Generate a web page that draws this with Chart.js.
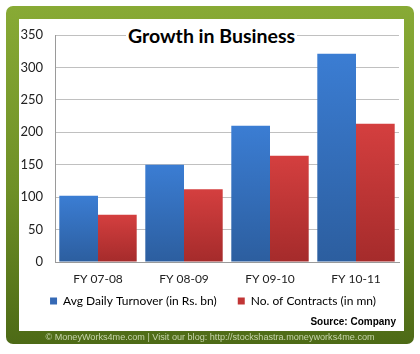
<!DOCTYPE html>
<html>
<head>
<meta charset="utf-8">
<script src="https://cdn.jsdelivr.net/npm/chart.js@4"></script>
<style>
  html, body { margin: 0; padding: 0; background: #fff; }
  #page { position: relative; width: 420px; height: 354px; overflow: hidden; background: #fff; }
  #frame {
    position: absolute; left: 6px; top: 6px; width: 408px; height: 338px;
    border-radius: 7px;
    background: linear-gradient(to bottom, #88aa35 0%, #6e8f26 55%, #4d6a16 100%);
  }
  #inner {
    position: absolute; left: 19px; top: 19px; width: 385px; height: 312px; background: #fff;
  }
  #grafico { position: absolute; left: 0; top: 0; }
  #titulo {
    position: absolute; left: 0; width: 385px; top: 5px; text-align: center;
    font: bold 19.5px Lato, sans-serif; color: #000;
  }
  #titulo span { background: #fff; padding: 0 2px; }
  #fuente {
    position: absolute; right: 8px; top: 297px;
    font: bold 10px "Liberation Sans", Arial, sans-serif; color: #000;
  }
  #pie {
    position: absolute; left: 0; width: 420px; top: 332px; text-align: center;
    font: 9.1px "Liberation Sans", Arial, sans-serif; color: #c7d5ac;
  }
</style>
</head>
<body>
<div id="page">
  <div id="frame"></div>
  <div id="inner">
    <canvas id="grafico" width="385" height="312"></canvas>
    <div id="titulo"><span>Growth in Business</span></div>
    <div id="fuente">Source: Company</div>
  </div>
  <div id="pie">© MoneyWorks4me.com | Visit our blog: http://stockshastra.moneyworks4me.com</div>
</div>
<script>
const anios = ['FY 07-08', 'FY 08-09', 'FY 09-10', 'FY 10-11']
const turnover = [102, 150, 210, 321]
const contratos = [73, 112, 164, 213]
const ticksY = [0, 50, 100, 150, 200, 250, 300, 350]

// degradado por barra, claro arriba y oscuro abajo
const degradado = (arriba, abajo) => (context) => {
    const chart = context.chart
    const area = chart.chartArea
    if (!area || context.type !== 'data') return arriba
    const y = chart.scales.y
    const valor = context.dataset.data[context.dataIndex]
    const yTop = y.getPixelForValue(valor)
    const yBot = y.getPixelForValue(0)
    const g = chart.ctx.createLinearGradient(0, yTop, 0, yBot)
    g.addColorStop(0, arriba)
    g.addColorStop(1, abajo)
    return g
}

// subir la leyenda para que quede pegada a las etiquetas del eje x
const subirLeyenda = {
    id: 'subirLeyenda',
    afterLayout: (chart) => {
        const l = chart.legend
        if (!l) return
        l.top -= 12
        l.bottom -= 12
        l.left += 4
        l.right += 4
    }
}

const ctx = document.getElementById('grafico')

const data = {
    labels: anios,
    datasets: [
        {
            label: 'Avg Daily Turnover (in Rs. bn)',
            data: turnover,
            backgroundColor: degradado('#3b7dd3', '#2c5e9f'),
            borderWidth: 0
        },
        {
            label: 'No. of Contracts (in mn)',
            data: contratos,
            backgroundColor: degradado('#d43f3f', '#a52b2b'),
            borderWidth: 0
        }
    ]
}

const config = {
    type: 'bar',
    data: data,
    plugins: [subirLeyenda],
    options: {
        responsive: false,
        animation: false,
        devicePixelRatio: 1,
        layout: { padding: { top: 16, right: 5, bottom: 2, left: 0 } },
        datasets: {
            bar: { categoryPercentage: 0.9, barPercentage: 1.0 }
        },
        plugins: {
            legend: {
                position: 'bottom',
                labels: {
                    boxWidth: 7, boxHeight: 7, padding: 21,
                    color: '#222',
                    font: { family: 'Lato', size: 12 },
                    generateLabels: (chart) => chart.data.datasets.map((ds, i) => ({
                        text: ds.label,
                        fillStyle: i === 0 ? '#3569b5' : '#c13535',
                        strokeStyle: 'transparent',
                        lineWidth: 0,
                        datasetIndex: i
                    }))
                }
            },
            title: { display: false },
            tooltip: { enabled: false }
        },
        scales: {
            x: {
                afterFit: (scale) => { scale.height = 24 },
                grid: { display: false, drawTicks: false },
                border: { color: '#9a9a9a', width: 1 },
                ticks: { color: '#222', font: { family: 'Lato', size: 12 }, padding: 10 }
            },
            y: {
                min: 0, max: 350,
                afterBuildTicks: (scale) => { scale.ticks = ticksY.map(v => ({ value: v })) },
                afterFit: (scale) => { scale.width = 36 },
                grid: { color: '#c0c0c0', lineWidth: 1, drawTicks: true, tickLength: 8, tickColor: 'rgba(0,0,0,0)' },
                border: { color: '#9a9a9a', width: 1 },
                ticks: { color: '#222', font: { family: 'Lato', size: 13 }, padding: 4 }
            }
        }
    }
}

const miGrafico = new Chart(ctx, config)
</script>
</body>
</html>
